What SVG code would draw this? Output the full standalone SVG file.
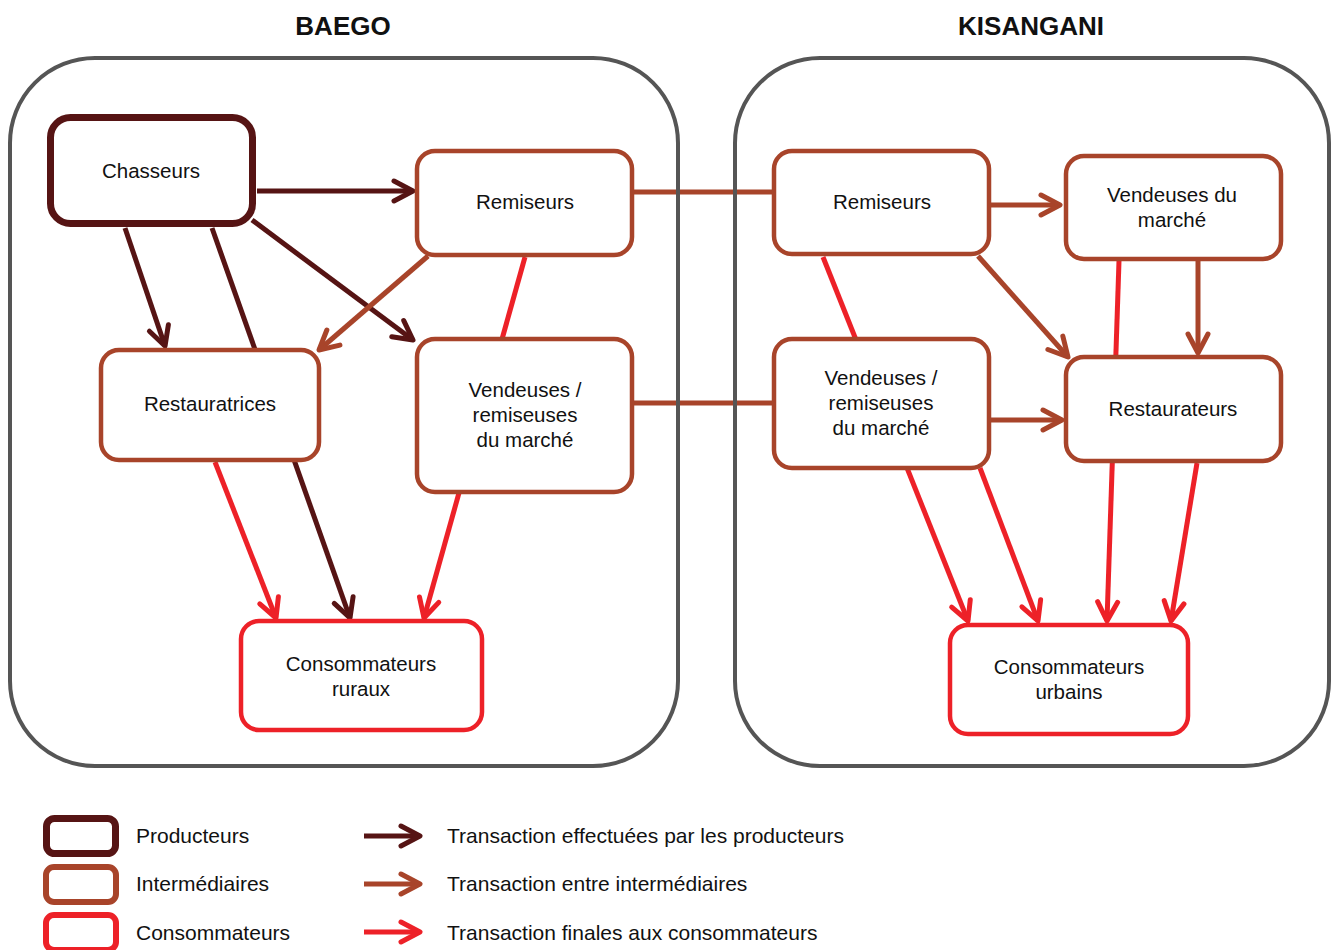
<svg xmlns="http://www.w3.org/2000/svg" width="1336" height="950" viewBox="0 0 1336 950">
<style>
.t{font-family:"Liberation Sans",Arial,sans-serif;font-size:20.5px;fill:#111;text-anchor:middle}
.tl{font-family:"Liberation Sans",Arial,sans-serif;font-size:21px;fill:#111}
.title{font-family:"Liberation Sans",Arial,sans-serif;font-size:26px;font-weight:bold;fill:#111;text-anchor:middle}
.cont{fill:none;stroke:#555;stroke-width:4}
.prod{fill:#fff;stroke:#561414;stroke-width:7}
.inter{fill:#fff;stroke:#a8442a;stroke-width:4.5}
.cons{fill:#fff;stroke:#ed2128;stroke-width:4.5}
.cd{stroke:#561414;stroke-width:5;fill:none}
.cr{stroke:#a8442a;stroke-width:5;fill:none}
.cc{stroke:#ed2128;stroke-width:5;fill:none}
</style>
<defs>
<marker id="ad" viewBox="-26 -15 30 30" markerWidth="30" markerHeight="30" refX="0" refY="0" orient="auto" markerUnits="userSpaceOnUse" overflow="visible"><path d="M-19,-10 L0,0 L-19,10" fill="none" stroke="#561414" stroke-width="5" stroke-linecap="round" stroke-linejoin="round"/></marker>
<marker id="ar" viewBox="-26 -15 30 30" markerWidth="30" markerHeight="30" refX="0" refY="0" orient="auto" markerUnits="userSpaceOnUse" overflow="visible"><path d="M-19,-10 L0,0 L-19,10" fill="none" stroke="#a8442a" stroke-width="5" stroke-linecap="round" stroke-linejoin="round"/></marker>
<marker id="ac" viewBox="-26 -15 30 30" markerWidth="30" markerHeight="30" refX="0" refY="0" orient="auto" markerUnits="userSpaceOnUse" overflow="visible"><path d="M-19,-10 L0,0 L-19,10" fill="none" stroke="#ed2128" stroke-width="5" stroke-linecap="round" stroke-linejoin="round"/></marker>
</defs>
<rect width="1336" height="950" fill="#fff"/>

<g id="connectors">
<line class="cd" x1="257" y1="191" x2="413" y2="191" marker-end="url(#ad)"/>
<line class="cd" x1="125" y1="228" x2="165" y2="346" marker-end="url(#ad)"/>
<line class="cd" x1="252" y1="220" x2="413" y2="340" marker-end="url(#ad)"/>
<line class="cd" x1="212" y1="228" x2="350" y2="618" marker-end="url(#ad)"/>
<line class="cr" x1="428" y1="256" x2="319" y2="350" marker-end="url(#ar)"/>
<line class="cr" x1="633" y1="192" x2="773" y2="192"/>
<line class="cr" x1="633" y1="403" x2="773" y2="403"/>
<line class="cr" x1="991" y1="205" x2="1060" y2="205" marker-end="url(#ar)"/>
<line class="cr" x1="978" y1="256" x2="1068" y2="357" marker-end="url(#ar)"/>
<line class="cr" x1="991" y1="420" x2="1062" y2="420" marker-end="url(#ar)"/>
<line class="cr" x1="1198" y1="261" x2="1198" y2="353" marker-end="url(#ar)"/>
<line class="cc" x1="525" y1="257" x2="424" y2="618" marker-end="url(#ac)"/>
<line class="cc" x1="215" y1="462" x2="276" y2="618" marker-end="url(#ac)"/>
<line class="cc" x1="823" y1="257" x2="968" y2="621" marker-end="url(#ac)"/>
<line class="cc" x1="980" y1="468" x2="1038" y2="621" marker-end="url(#ac)"/>
<line class="cc" x1="1119" y1="261" x2="1107" y2="621" marker-end="url(#ac)"/>
<line class="cc" x1="1197" y1="463" x2="1171" y2="621" marker-end="url(#ac)"/>
</g>

<g id="baego">
<rect class="cont" x="10" y="58" width="668" height="708" rx="85" ry="85"/>
<text class="title" x="343" y="35">BAEGO</text>
</g>
<g id="kisangani">
<rect class="cont" x="735" y="58" width="594" height="708" rx="85" ry="85"/>
<text class="title" x="1031" y="35">KISANGANI</text>
</g>

<g id="chasseurs"><rect class="prod" x="50.5" y="117.5" width="202" height="106" rx="20"/><text class="t" x="151" y="178">Chasseurs</text></g>
<g id="remiseurs-baego"><rect class="inter" x="417" y="151" width="215" height="104" rx="18"/><text class="t" x="525" y="209">Remiseurs</text></g>
<g id="restauratrices"><rect class="inter" x="101" y="350" width="218" height="110" rx="18"/><text class="t" x="210" y="411">Restauratrices</text></g>
<g id="vendeuses-baego"><rect class="inter" x="417" y="339" width="215" height="153" rx="18"/><text class="t" x="525" y="397">Vendeuses /</text><text class="t" x="525" y="422">remiseuses</text><text class="t" x="525" y="447">du marché</text></g>
<g id="consommateurs-ruraux"><rect class="cons" x="241" y="621" width="241" height="109" rx="18"/><text class="t" x="361" y="671">Consommateurs</text><text class="t" x="361" y="696">ruraux</text></g>

<g id="remiseurs-kisangani"><rect class="inter" x="774" y="151" width="215" height="103" rx="18"/><text class="t" x="882" y="209">Remiseurs</text></g>
<g id="vendeuses-du-marche"><rect class="inter" x="1066" y="156" width="215" height="103" rx="18"/><text class="t" x="1172" y="202">Vendeuses du</text><text class="t" x="1172" y="227">marché</text></g>
<g id="vendeuses-kisangani"><rect class="inter" x="774" y="339" width="215" height="129" rx="18"/><text class="t" x="881" y="385">Vendeuses /</text><text class="t" x="881" y="410">remiseuses</text><text class="t" x="881" y="435">du marché</text></g>
<g id="restaurateurs"><rect class="inter" x="1066" y="357" width="215" height="104" rx="18"/><text class="t" x="1173" y="416">Restaurateurs</text></g>
<g id="consommateurs-urbains"><rect class="cons" x="950" y="625" width="238" height="109" rx="18"/><text class="t" x="1069" y="674">Consommateurs</text><text class="t" x="1069" y="699">urbains</text></g>

<g id="legend">
<rect class="prod" x="46.5" y="818.5" width="69" height="35" rx="8"/>
<text class="tl" x="136" y="843">Producteurs</text>
<rect class="inter" x="46" y="867" width="70" height="35" rx="8" style="stroke-width:6"/>
<text class="tl" x="136" y="891">Intermédiaires</text>
<rect class="cons" x="46" y="915" width="70" height="35" rx="8" style="stroke-width:6"/>
<text class="tl" x="136" y="940">Consommateurs</text>
<line class="cd" x1="364" y1="836" x2="420" y2="836" marker-end="url(#ad)"/>
<text class="tl" x="447" y="843">Transaction effectuées par les producteurs</text>
<line class="cr" x1="364" y1="884" x2="420" y2="884" marker-end="url(#ar)"/>
<text class="tl" x="447" y="891">Transaction entre intermédiaires</text>
<line class="cc" x1="364" y1="932" x2="420" y2="932" marker-end="url(#ac)"/>
<text class="tl" x="447" y="940">Transaction finales aux consommateurs</text>
</g>
</svg>
